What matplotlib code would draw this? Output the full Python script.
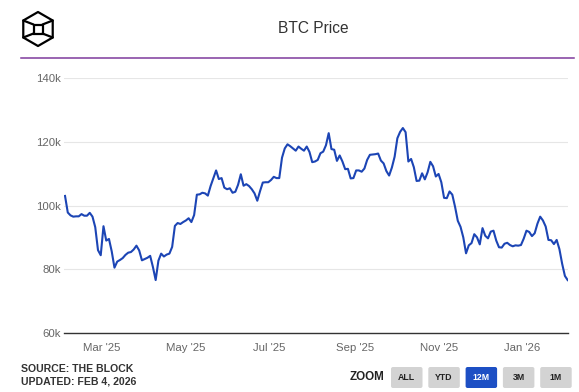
import matplotlib
matplotlib.use("Agg")
import matplotlib.pyplot as plt
import matplotlib.dates as mdates
from matplotlib.patches import FancyBboxPatch, Polygon
from matplotlib.ticker import FuncFormatter
import pandas as pd

plt.rcParams["font.family"] = ["Liberation Sans", "DejaVu Sans"]

# BTC price (thousand USD), one reading every second day from 2 Feb 2025
start_date = "2025-02-02"
step = "2D"
btc_k = [
    103.0, 97.8, 96.9, 96.5, 96.6, 96.6, 97.3, 96.8, 96.8, 97.7,
    96.5, 93.2, 86.0, 84.4, 93.5, 89.0, 89.5, 85.6, 80.5, 82.4,
    82.9, 83.5, 84.5, 85.2, 85.4, 86.2, 87.4, 85.9, 82.8, 83.2,
    83.6, 84.2, 80.7, 76.6, 82.7, 84.9, 84.0, 84.6, 84.9, 87.0,
    93.6, 94.5, 94.2, 94.8, 95.3, 96.0, 94.8, 97.0, 103.4, 103.5,
    104.0, 103.8, 103.1, 106.1, 108.6, 111.0, 108.3, 108.6, 105.6, 105.1,
    105.4, 104.0, 104.3, 106.5, 109.8, 106.2, 106.7, 106.1, 105.1, 103.8,
    101.5, 104.5, 107.2, 107.3, 107.3, 108.0, 109.0, 108.6, 108.6, 115.0,
    117.9, 119.2, 118.6, 117.9, 117.2, 118.5, 117.8, 117.2, 118.5, 116.8,
    113.6, 113.8, 114.3, 116.4, 116.9, 118.9, 122.7, 117.7, 117.5, 114.0,
    115.7, 113.8, 111.4, 111.5, 108.5, 108.6, 111.0, 111.0, 110.6, 111.6,
    114.3, 115.9, 116.0, 116.1, 116.3, 114.1, 113.2, 110.8, 109.4, 111.9,
    115.3, 121.1, 123.1, 124.3, 123.0, 113.8, 114.6, 112.0, 107.7, 107.8,
    110.1, 108.2, 110.4, 113.7, 112.3, 109.1, 109.9, 107.3, 102.4, 102.3,
    104.4, 103.4, 99.6, 95.2, 93.3, 90.0, 85.0, 87.5, 88.2, 91.0,
    90.0, 87.8, 92.9, 90.5, 89.7, 91.8, 92.1, 89.0, 86.9, 86.8,
    88.0, 88.3, 87.6, 87.2, 87.5, 87.4, 87.6, 89.6, 92.1, 91.7,
    90.4, 91.3, 94.3, 96.5, 95.3, 93.4, 89.2, 89.1, 87.9, 89.2,
    86.3, 81.7, 77.9, 76.6,
]
y_ticks = [60, 80, 100, 120, 140]
title = "BTC Price"
source_lines = ["SOURCE: THE BLOCK", "UPDATED: FEB 4, 2026"]
zoom_buttons = ["ALL", "YTD", "12M", "3M", "1M"]
active_button = "12M"

dates = pd.date_range(start_date, periods=len(btc_k), freq=step)

W, H = 579, 392
fig = plt.figure(figsize=(W / 100, H / 100), dpi=100)
fig.patch.set_facecolor("white")

# overlay in pixel coordinates for header / footer decorations
deco = fig.add_axes([0, 0, 1, 1])
deco.set_xlim(0, W)
deco.set_ylim(H, 0)
deco.axis("off")

# logo: cube outline
cx, cy, r, s = 38, 29, 17, 4.5
hexagon = [(cx, cy - r), (cx + 0.866 * r, cy - r / 2), (cx + 0.866 * r, cy + r / 2),
           (cx, cy + r), (cx - 0.866 * r, cy + r / 2), (cx - 0.866 * r, cy - r / 2)]
deco.add_patch(Polygon(hexagon, closed=True, fill=False, edgecolor="black", lw=1.6,
                       joinstyle="round"))
inner = [(cx - s, cy - s), (cx + s, cy - s), (cx + s, cy + s), (cx - s, cy + s)]
deco.add_patch(Polygon(inner, closed=True, fill=False, edgecolor="black", lw=1.6))
for (hx, hy), (ix, iy) in zip([hexagon[5], hexagon[1], hexagon[2], hexagon[4]], inner):
    deco.plot([hx, ix], [hy, iy], color="black", lw=1.6, solid_capstyle="round")

deco.text(313, 28, title, ha="center", va="center", fontsize=11.2, color="#333333")
deco.plot([21, 574], [58, 58], color="#7e3a9c", lw=1.1)

deco.text(21, 369, source_lines[0], ha="left", va="center", fontsize=7.6, fontweight="bold",
          color="#333333")
deco.text(21, 382, source_lines[1], ha="left", va="center", fontsize=7.6, fontweight="bold",
          color="#333333")

deco.text(367, 377, "ZOOM", ha="center", va="center", fontsize=8.4, fontweight="bold",
          color="#222222")
bx, bw, gap, by, bh = 391, 31.5, 5.8, 367, 21
for k, name in enumerate(zoom_buttons):
    x0 = bx + k * (bw + gap)
    active = name == active_button
    deco.add_patch(FancyBboxPatch((x0, by), bw, bh, boxstyle="round,pad=0,rounding_size=2",
                                  facecolor="#1d4fc4" if active else "#d3d3d3",
                                  edgecolor="none"))
    deco.text(x0 + bw / 2, by + bh / 2 + 0.5, name, ha="center", va="center", fontsize=6.3,
              fontweight="bold", color="white" if active else "#222222")

# main chart
left, right, top, bottom = 64, 568, 78, 333
ax = fig.add_axes([left / W, 1 - bottom / H, (right - left) / W, (bottom - top) / H])
ax.set_facecolor("none")
ax.plot(dates, btc_k, color="#1c45b5", lw=1.5, solid_joinstyle="round", zorder=3)
ax.set_ylim(60, 140)
ax.set_yticks(y_ticks)
ax.yaxis.set_major_formatter(FuncFormatter(lambda v, p: f"{int(v)}k"))
ax.set_xlim(dates[0] - pd.Timedelta(hours=18), dates[-1] + pd.Timedelta(hours=6))
ax.xaxis.set_major_locator(mdates.MonthLocator(bymonth=[1, 3, 5, 7, 9, 11]))
ax.xaxis.set_major_formatter(mdates.DateFormatter("%b '%y"))
ax.grid(axis="y", color="#e6e6e6", lw=0.8, zorder=0)
for side in ["top", "right", "left"]:
    ax.spines[side].set_visible(False)
ax.spines["bottom"].set_color("#333333")
ax.spines["bottom"].set_linewidth(1.0)
ax.tick_params(axis="both", length=0, labelsize=8.2, colors="#666666")
ax.tick_params(axis="y", pad=2)
ax.tick_params(axis="x", pad=7)

fig.savefig("out.png", dpi=100)
